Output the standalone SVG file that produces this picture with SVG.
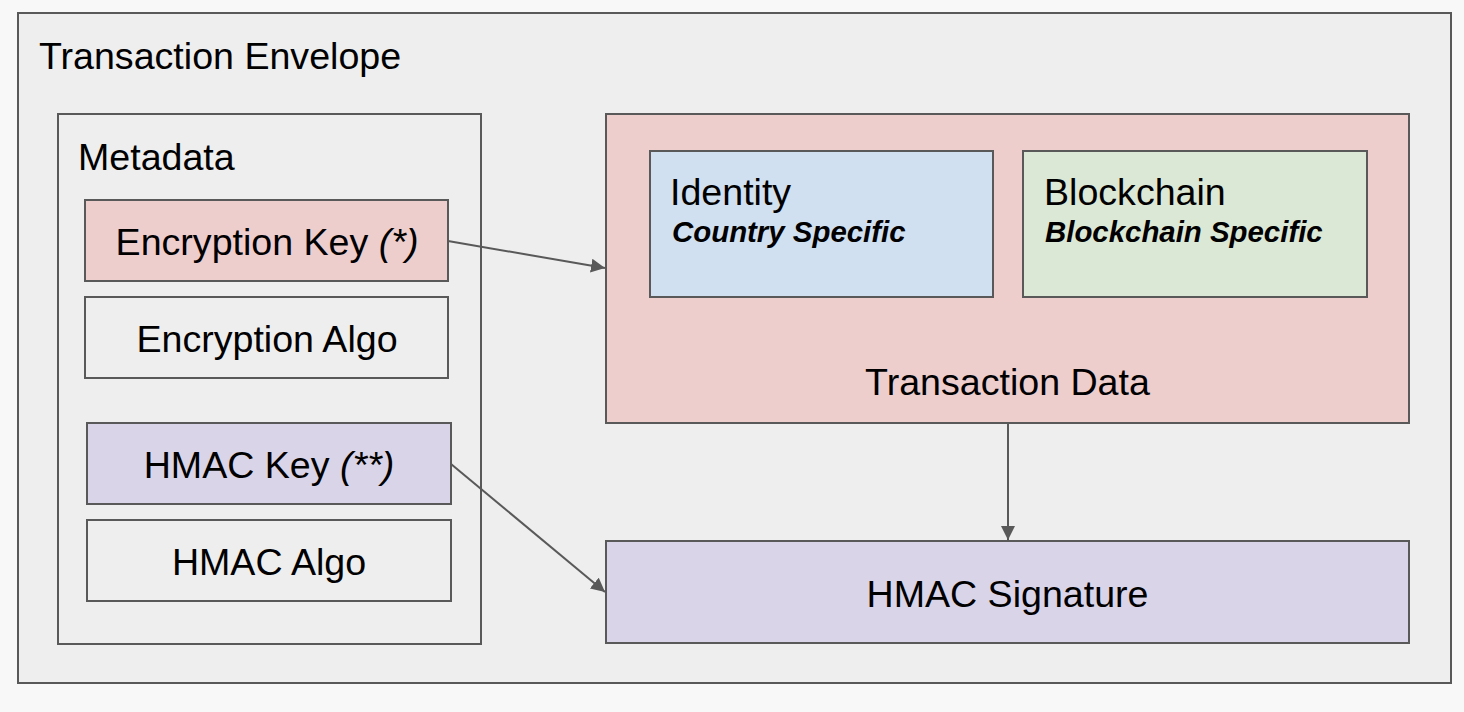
<svg xmlns="http://www.w3.org/2000/svg" width="1464" height="712" viewBox="0 0 1464 712">
<style>
.box{stroke:#595959;stroke-width:2}
.t{font-family:"Liberation Sans",Arial,sans-serif;font-size:37.6px;fill:#000}
.s{font-family:"Liberation Sans",Arial,sans-serif;font-size:29.4px;font-weight:bold;font-style:italic;fill:#000}
.c{text-anchor:middle}
.conn{stroke:#595959;stroke-width:2;fill:none;marker-end:url(#ah)}
</style>
<defs>
<marker id="ah" viewBox="0 0 10 10" refX="10" refY="5" markerWidth="7" markerHeight="7" orient="auto" markerUnits="strokeWidth">
<path d="M0,0 L10,5 L0,10 z" fill="#595959"/>
</marker>
</defs>
<rect width="1464" height="712" fill="#f8f8f8"/>
<g id="envelope">
<rect class="box" x="18" y="13" width="1433" height="670" fill="#eeeeee"/>
<text class="t" x="39" y="69">Transaction Envelope</text>
</g>
<g id="metadata">
<rect class="box" x="58" y="114" width="423" height="530" fill="#eeeeee"/>
<text class="t" x="78" y="170">Metadata</text>
</g>
<g id="encryption-key">
<rect class="box" x="85" y="200" width="363" height="81" fill="#eecdcd"/>
<text class="t c" x="267" y="255">Encryption Key <tspan font-style="italic">(*)</tspan></text>
</g>
<g id="encryption-algo">
<rect class="box" x="85" y="297" width="363" height="81" fill="#eeeeee"/>
<text class="t c" x="267" y="352">Encryption Algo</text>
</g>
<g id="hmac-key">
<rect class="box" x="87" y="423" width="364" height="81" fill="#d9d4e8"/>
<text class="t c" x="269" y="478">HMAC Key <tspan font-style="italic">(**)</tspan></text>
</g>
<g id="hmac-algo">
<rect class="box" x="87" y="520" width="364" height="81" fill="#eeeeee"/>
<text class="t c" x="269" y="575">HMAC Algo</text>
</g>
<g id="transaction-data">
<rect class="box" x="606" y="114" width="803" height="309" fill="#eecdcd"/>
<text class="t c" x="1007.5" y="395">Transaction Data</text>
</g>
<g id="identity">
<rect class="box" x="650" y="151" width="343" height="146" fill="#d0e0f1"/>
<text class="t" x="670" y="205">Identity</text>
<text class="s" x="672" y="242">Country Specific</text>
</g>
<g id="blockchain">
<rect class="box" x="1023" y="151" width="344" height="146" fill="#dbe8d5"/>
<text class="t" x="1044" y="205">Blockchain</text>
<text class="s" x="1045" y="242">Blockchain Specific</text>
</g>
<g id="hmac-signature">
<rect class="box" x="606" y="541" width="803" height="102" fill="#d9d4e8"/>
<text class="t c" x="1007.5" y="607">HMAC Signature</text>
</g>
<g id="connectors">
<line class="conn" x1="448" y1="241" x2="605" y2="268"/>
<line class="conn" x1="451" y1="464" x2="605" y2="592"/>
<line class="conn" x1="1008" y1="423" x2="1008" y2="540"/>
</g>
</svg>
